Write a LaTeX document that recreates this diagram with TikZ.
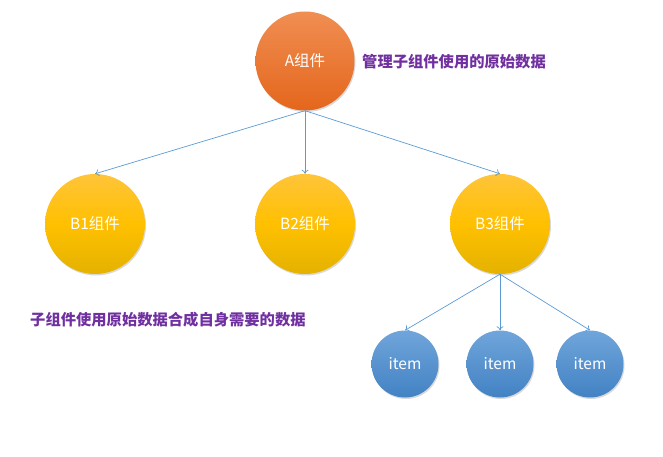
\documentclass[tikz,border=0pt]{standalone}
\usepackage{fontspec}
\setmainfont{Noto Sans CJK SC}
\usetikzlibrary{shadows,arrows.meta}
\definecolor{linkblue}{RGB}{91,155,213}
\definecolor{notepurple}{RGB}{112,48,160}
\tikzset{
  comp/.style={circle, minimum size=#1, inner sep=0pt, text=white, font=\fontsize{15.5}{17}\selectfont,
    drop shadow={shadow xshift=1pt, shadow yshift=-1.5pt, opacity=0.25, fill=black!60}},
  orangeball/.style={comp=99pt, top color={rgb,255:red,240;green,142;blue,82}, bottom color={rgb,255:red,228;green,102;blue,28}},
  yellowball/.style={comp=100pt, top color={rgb,255:red,255;green,196;blue,58}, bottom color={rgb,255:red,228;green,178;blue,0}, middle color={rgb,255:red,255;green,192;blue,0}},
  blueball/.style={comp=67pt, top color={rgb,255:red,112;green,165;blue,218}, bottom color={rgb,255:red,66;green,130;blue,196}},
  link/.style={draw=linkblue, line width=0.7pt, -{To[length=4pt,width=7pt]}},
  note/.style={text=notepurple, font=\fontsize{15.3}{17}\selectfont\bfseries, inner sep=0pt, anchor=west}
}
\begin{document}
\begin{tikzpicture}[x=1pt,y=-1pt]
\useasboundingbox (0,0) rectangle (663,457);
\node[orangeball] (A) at (305,61) {A组件};
\node[yellowball] (B1) at (95,224) {B1组件};
\node[yellowball] (B2) at (305,224) {B2组件};
\node[yellowball] (B3) at (500,224) {B3组件};
\node[blueball] (I1) at (405,364) {item};
\node[blueball] (I2) at (500,364) {item};
\node[blueball] (I3) at (590,364) {item};
\node[note] (N1) at (362,62) {管理子组件使用的原始数据};
\node[note] (N2) at (30,320) {子组件使用原始数据合成自身需要的数据};
\draw[link] (A.south) -- (B1.north);
\draw[link] (A.south) -- (B2.north);
\draw[link] (A.south) -- (B3.north);
\draw[link] (B3.south) -- (I1.north);
\draw[link] (B3.south) -- (I2.north);
\draw[link] (B3.south) -- (I3.north);
\end{tikzpicture}
\end{document}
